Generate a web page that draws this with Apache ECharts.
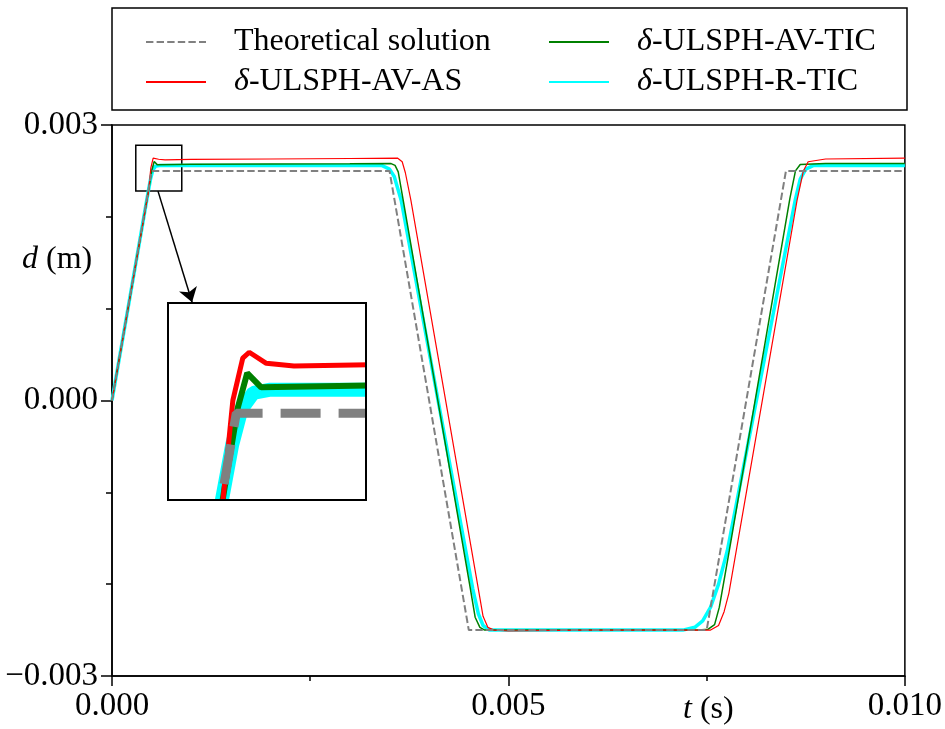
<!DOCTYPE html>
<html>
<head>
<meta charset="utf-8">
<script src="https://cdn.jsdelivr.net/npm/echarts@6/dist/echarts.min.js"></script>
<style>html,body{margin:0;padding:0;background:#fff;}#c{width:945px;height:729px;}</style>
</head>
<body>
<div id="c"></div>
<script>
// ---- data ----
const theoT = [0, 0.0005, 0.0035, 0.0045, 0.0075, 0.0085, 0.01];
const theoD = [0, 0.0025, 0.0025, -0.0025, -0.0025, 0.0025, 0.0025];

const asT = [0, 0.000461, 0.00049, 0.000519, 0.000538, 0.000588, 0.000669, 0.0010, 0.0020, 0.0030, 0.0036, 0.00366, 0.0037, 0.00377, 0.00461, 0.00468, 0.00474, 0.00482, 0.0050, 0.0060, 0.0070, 0.00755, 0.00765, 0.00772, 0.00778, 0.007874, 0.00864, 0.00872, 0.00878, 0.0090, 0.0100];
const asD = [0, 0.00228, 0.002533, 0.00264, 0.002655, 0.002627, 0.00262, 0.002625, 0.00263, 0.002635, 0.00264, 0.0026, 0.00248, 0.00218, -0.0020, -0.00235, -0.00247, -0.0025, -0.00251, -0.0025, -0.0025, -0.0025, -0.00245, -0.0023, -0.0021, -0.001633, 0.00218, 0.0025, 0.0026, 0.00263, 0.00264];

const ticT = [0, 0.00046, 0.000505, 0.000532, 0.000573, 0.0010, 0.0030, 0.00352, 0.00357, 0.00361, 0.003673, 0.00451, 0.00458, 0.00464, 0.0047, 0.0060, 0.0074, 0.00752, 0.0076, 0.00766, 0.007786, 0.00855, 0.00862, 0.00868, 0.0090, 0.0100];
const ticD = [0, 0.00228, 0.002516, 0.002602, 0.002566, 0.002572, 0.002578, 0.00258, 0.00256, 0.00249, 0.002178, -0.0020, -0.00236, -0.00247, -0.0025, -0.0025, -0.0025, -0.00249, -0.00244, -0.00225, -0.001633, 0.0022, 0.0025, 0.00257, 0.00258, 0.00258];

const rT = [0, 0.000458, 0.000488, 0.000515, 0.00055, 0.0006, 0.0010, 0.0030, 0.0034, 0.0035, 0.00356, 0.0036, 0.003648, 0.00455, 0.00462, 0.00468, 0.00476, 0.0050, 0.0070, 0.0072, 0.00735, 0.00745, 0.00755, 0.00765, 0.007761, 0.008616, 0.00868, 0.00875, 0.00885, 0.0100];
const rD = [0, 0.00228, 0.00242, 0.00251, 0.002552, 0.00256, 0.00256, 0.00256, 0.00256, 0.00252, 0.00244, 0.00232, 0.002178, -0.00205, -0.00232, -0.00245, -0.0025, -0.0025, -0.0025, -0.0025, -0.00247, -0.0024, -0.00225, -0.0020, -0.001633, 0.002178, 0.00241, 0.00252, 0.00256, 0.00256];

const names = ['Theoretical solution', 'δ-ULSPH-AV-AS', 'δ-ULSPH-AV-TIC', 'δ-ULSPH-R-TIC'];
const xLimits = [0, 0.01];
const yLimits = [-0.003, 0.003];
const insetX = [0.0003, 0.00088];
const insetY = [0.00228, 0.00278];
const arrowFrom = [0.00058, 0.00228];
const arrowTo = [0.00101, 0.00107];

// ---- layout ----
const INSET = { left: 168, top: 303, width: 198, height: 197 };

// ---- chart ----
const pair = (t, d) => t.map((v, i) => [v, d[i]]);
const FONT = 'Liberation Serif';
const FS = 33;
const rich = {
  it: { fontStyle: 'italic', fontFamily: FONT, fontSize: 32, color: '#000' },
  n: { fontFamily: FONT, fontSize: 32, color: '#000' }
};
const legFmt = name => name.charAt(0) === 'δ' ? '{it|δ}{n|' + name.slice(1) + '}' : '{n|' + name + '}';
const fmt = v => {
  if (Math.abs(v) < 1e-12) return '0.000';
  return v.toFixed(3).replace('-', '\u2212');
};
const styles = {
  theo: { color: '#808080', w: 2, wi: 9, type: [7.4, 3.2], typei: [40, 18] },
  as: { color: '#ff0000', w: 1.2, wi: 5 },
  tic: { color: '#008000', w: 1.5, wi: 6 },
  r: { color: '#00ffff', w: 3.5, wi: 14 }
};
function mk(name, data, st, inset) {
  return {
    type: 'line', name: inset ? name + ' (inset)' : name, data: data,
    xAxisIndex: inset ? 1 : 0, yAxisIndex: inset ? 1 : 0,
    showSymbol: false, symbol: 'none', smooth: false, clip: true,
    color: st.color,
    lineStyle: { color: st.color, width: inset ? st.wi : st.w, type: st.type ? (inset ? st.typei : st.type) : 'solid' }
  };
}
const sTheo = pair(theoT, theoD), sAS = pair(asT, asD), sTIC = pair(ticT, ticD), sR = pair(rT, rD);
const series = [
  mk(names[3], sR, styles.r, false),
  mk(names[2], sTIC, styles.tic, false),
  mk(names[1], sAS, styles.as, false),
  mk(names[0], sTheo, styles.theo, false),
  mk(names[3], sR, styles.r, true),
  mk(names[2], sTIC, styles.tic, true),
  mk(names[1], sAS, styles.as, true),
  mk(names[0], sTheo, styles.theo, true)
];
series[3].markArea = {
  silent: true,
  itemStyle: { color: 'rgba(0,0,0,0)', borderColor: '#000', borderWidth: 1.5 },
  data: [[{ coord: [insetX[0], insetY[1]] }, { coord: [insetX[1], insetY[0]] }]]
};
series[3].markLine = {
  silent: true, symbol: ['none', 'arrow'], symbolSize: 14,
  label: { show: false },
  lineStyle: { color: '#000', width: 1.5, type: 'solid' },
  data: [[{ coord: arrowFrom }, { coord: arrowTo }]]
};

const legendBase = {
  orient: 'vertical', top: 24, itemWidth: 60, itemHeight: 14, itemGap: 4, padding: 0,
  itemStyle: { opacity: 0 },
  formatter: legFmt,
  textStyle: { fontFamily: FONT, fontSize: 32, lineHeight: 36, color: '#000', padding: [0, 0, 0, 23], rich: rich }
};

const L = INSET.left, T = INSET.top, W = INSET.width, H = INSET.height;
const chart = echarts.init(document.getElementById('c'), null, { renderer: 'canvas' });
chart.setOption({
  animation: false,
  backgroundColor: '#fff',
  legend: [
    Object.assign({}, legendBase, { left: 145, data: [names[0], names[1]] }),
    Object.assign({}, legendBase, { left: 548, data: [names[2], names[3]] })
  ],
  grid: [
    { left: 112, right: 38, top: 125, bottom: 53, show: true, borderColor: '#000', borderWidth: 1.5, backgroundColor: 'rgba(0,0,0,0)' },
    { left: L, top: T, width: W, height: H, show: true, borderColor: '#000', borderWidth: 2, backgroundColor: '#fff' }
  ],
  xAxis: [
    {
      type: 'value', gridIndex: 0, min: xLimits[0], max: xLimits[1], interval: 0.005,
      axisLine: { show: true, onZero: false, lineStyle: { color: '#000', width: 1.5 } },
      axisTick: { show: true, length: 10, lineStyle: { color: '#000', width: 1.5 } },
      minorTick: { show: true, splitNumber: 2, length: 5, lineStyle: { color: '#000', width: 1.5 } },
      splitLine: { show: false },
      axisLabel: { formatter: fmt, fontFamily: FONT, fontSize: FS, color: '#000', margin: 14, showMinLabel: true, showMaxLabel: true }
    },
    { type: 'value', gridIndex: 1, min: insetX[0], max: insetX[1], show: false, splitLine: { show: false } }
  ],
  yAxis: [
    {
      type: 'value', gridIndex: 0, min: yLimits[0], max: yLimits[1], interval: 0.003,
      axisLine: { show: true, onZero: false, lineStyle: { color: '#000', width: 1.5 } },
      axisTick: { show: true, length: 11, lineStyle: { color: '#000', width: 1.5 } },
      minorTick: { show: true, splitNumber: 3, length: 6, lineStyle: { color: '#000', width: 1.5 } },
      splitLine: { show: false },
      axisLabel: { formatter: fmt, fontFamily: FONT, fontSize: FS, color: '#000', margin: 14 }
    },
    { type: 'value', gridIndex: 1, min: insetY[0], max: insetY[1], show: false, splitLine: { show: false } }
  ],
  graphic: [
    { type: 'rect', z: 100, shape: { x: 112, y: 8, width: 795, height: 102 }, style: { fill: 'none', stroke: '#000', lineWidth: 1.5 } },
    // white masks just outside the inset frame (line clip is widened by line width)
    { type: 'rect', z: 100, silent: true, shape: { x: L - 12, y: T + H + 1, width: W + 26, height: 12 }, style: { fill: '#fff' } },
    { type: 'rect', z: 100, silent: true, shape: { x: L + W + 1, y: T + 2, width: 12, height: H + 10 }, style: { fill: '#fff' } },
    { type: 'rect', z: 101, silent: true, shape: { x: L, y: T, width: W, height: H }, style: { fill: 'none', stroke: '#000', lineWidth: 2 } },
    { type: 'text', z: 100, x: 22, y: 260, style: { text: '{it|d}{n| (m)}', rich: rich, verticalAlign: 'middle', align: 'left' } },
    { type: 'text', z: 100, x: 683, y: 710, style: { text: '{it|t}{n| (s)}', rich: rich, verticalAlign: 'middle', align: 'left' } }
  ],
  series: series
});
</script>
</body>
</html>
